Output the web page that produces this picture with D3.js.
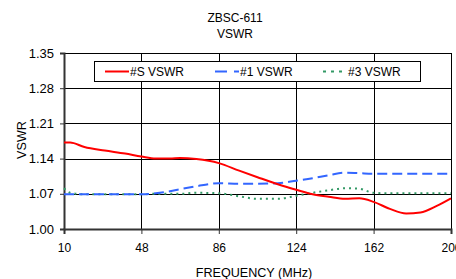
<!DOCTYPE html>
<html>
<head>
<meta charset="utf-8">
<script src="https://cdn.jsdelivr.net/npm/d3@7"></script>
<style>
  body { margin: 0; background: #fff; }
  svg { display: block; font-family: "Liberation Sans", Arial, sans-serif; }
</style>
</head>
<body>
<div id="chart"></div>
<script>
const freq = [10, 13, 20, 30, 40, 48, 55, 62, 67, 75, 86, 96, 105, 115, 124, 132, 140, 148, 155, 162, 170, 178, 185, 193, 200];
const vswrS = [1.172, 1.172, 1.163, 1.156, 1.150, 1.144, 1.140, 1.140, 1.141, 1.139, 1.131, 1.116, 1.103, 1.089, 1.078, 1.069, 1.064, 1.060, 1.061, 1.054, 1.040, 1.031, 1.033, 1.046, 1.061];
const vswr1 = [1.069, 1.069, 1.069, 1.069, 1.069, 1.069, 1.071, 1.075, 1.079, 1.085, 1.091, 1.090, 1.090, 1.091, 1.096, 1.101, 1.107, 1.112, 1.111, 1.110, 1.110, 1.110, 1.110, 1.110, 1.110];
const vswr3 = [1.081, 1.072, 1.069, 1.069, 1.069, 1.069, 1.070, 1.070, 1.070, 1.072, 1.071, 1.065, 1.060, 1.060, 1.066, 1.072, 1.077, 1.081, 1.080, 1.072, 1.071, 1.071, 1.071, 1.071, 1.071];
const xTicks = [10, 48, 86, 124, 162, 200];
const yTicks = [1.00, 1.07, 1.14, 1.21, 1.28, 1.35];

const series = [
  { name: "#S VSWR", values: vswrS, color: "#ff0000", dash: null },
  { name: "#1 VSWR", values: vswr1, color: "#3366ff", dash: "10,5" },
  { name: "#3 VSWR", values: vswr3, color: "#339966", dash: "2,4" }
];

const width = 456, height = 279;
const margin = { top: 53, right: 5, bottom: 50, left: 64 };

const svg = d3.select("#chart").append("svg")
  .attr("width", width)
  .attr("height", height);

const x = d3.scaleLinear().domain([10, 200]).range([margin.left, width - margin.right]);
const y = d3.scaleLinear().domain([1.00, 1.35]).range([height - margin.bottom, margin.top]);

// grid
svg.append("g")
  .selectAll("line.h")
  .data(yTicks)
  .join("line")
  .attr("x1", x(10)).attr("x2", x(200))
  .attr("y1", d => Math.round(y(d)) + 0.5).attr("y2", d => Math.round(y(d)) + 0.5)
  .attr("stroke", "#000").attr("stroke-width", 1);

svg.append("g")
  .selectAll("line.v")
  .data(xTicks)
  .join("line")
  .attr("x1", d => Math.round(x(d)) + 0.5).attr("x2", d => Math.round(x(d)) + 0.5)
  .attr("y1", y(1.35)).attr("y2", y(1.00))
  .attr("stroke", "#000").attr("stroke-width", 1);

// axes
const yAxis = svg.append("g")
  .attr("transform", `translate(${margin.left},0)`)
  .call(d3.axisLeft(y).tickValues(yTicks).tickFormat(d3.format(".2f")).tickSize(4).tickPadding(6));
const xAxis = svg.append("g")
  .attr("transform", `translate(0,${height - margin.bottom})`)
  .call(d3.axisBottom(x).tickValues(xTicks).tickSize(5).tickPadding(9));

[yAxis, xAxis].forEach(g => {
  g.select(".domain").attr("stroke", "#333").attr("stroke-width", 2);
  g.selectAll(".tick line").attr("stroke", "#333").attr("stroke-width", 1);
  g.selectAll("text").attr("font-size", 12).attr("fill", "#000")
    .attr("font-family", "'Liberation Sans', Arial, sans-serif");
});
yAxis.selectAll("text").attr("font-size", 13);

// lines
const line = d3.line()
  .x((d, i) => x(freq[i]))
  .y(d => y(d))
  .curve(d3.curveMonotoneX);

svg.append("g")
  .selectAll("path")
  .data(series.slice().reverse())
  .join("path")
  .attr("d", d => line(d.values))
  .attr("fill", "none")
  .attr("stroke", d => d.color)
  .attr("stroke-width", 2)
  .attr("stroke-dasharray", d => d.dash);

// titles
svg.append("text").attr("x", 235).attr("y", 22).attr("text-anchor", "middle")
  .attr("font-size", 12).text("ZBSC-611");
svg.append("text").attr("x", 235).attr("y", 38).attr("text-anchor", "middle")
  .attr("font-size", 12).text("VSWR");
svg.append("text").attr("x", 254).attr("y", 277).attr("text-anchor", "middle")
  .attr("font-size", 12.6).text("FREQUENCY (MHz)");
svg.append("text")
  .attr("transform", "translate(26,140) rotate(-90)")
  .attr("text-anchor", "middle")
  .attr("font-size", 12.6).text("VSWR");

// legend
const legend = svg.append("g");
legend.append("rect")
  .attr("x", 94.5).attr("y", 61.5).attr("width", 326).attr("height", 20)
  .attr("fill", "#fff").attr("stroke", "#000").attr("stroke-width", 1);

const legendX = [105, 215, 323];
const item = legend.selectAll("g.item")
  .data(series)
  .join("g")
  .attr("transform", (d, i) => `translate(${legendX[i]},71.5)`);
item.append("line")
  .attr("x1", 0).attr("x2", 24)
  .attr("stroke", d => d.color)
  .attr("stroke-width", 2)
  .attr("stroke-dasharray", (d, i) => i === 1 ? "12,7" : d.dash ? "3,5" : null);
item.append("text")
  .attr("x", 25).attr("y", 4.5)
  .attr("font-size", 12)
  .text(d => d.name);
</script>
</body>
</html>
